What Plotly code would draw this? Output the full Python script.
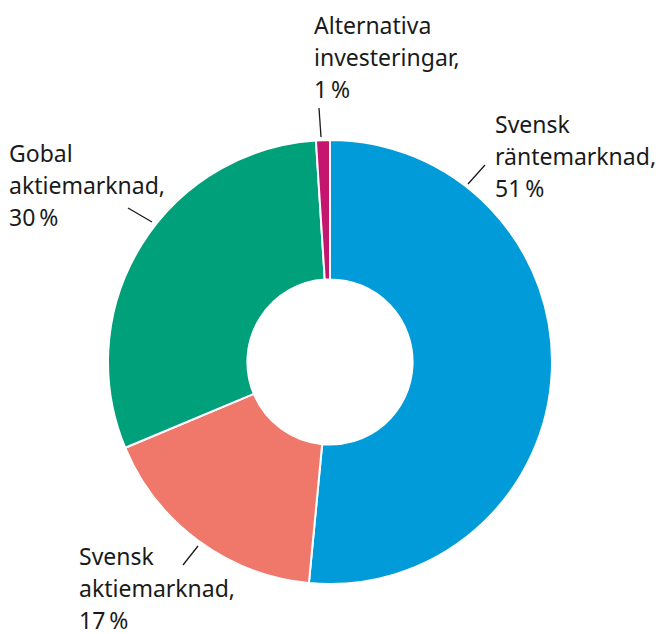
import plotly.graph_objects as go

# -----------------------------
# Daten
# -----------------------------
kategorien = ["Svensk räntemarknad", "Svensk aktiemarknad",
              "Gobal aktiemarknad", "Alternativa investeringar"]
andel = [51, 17, 30, 1]
farben = ["#009BD8", "#EF786A", "#00A17A", "#C4166F"]

# Beschriftungen (Zeilen) je Segment
label_zeilen = [
    ["Svensk", "räntemarknad,", "51\u202f%"],
    ["Svensk", "aktiemarknad,", "17\u202f%"],
    ["Gobal", "aktiemarknad,", "30\u202f%"],
    ["Alternativa", "investeringar,", "1\u202f%"],
]

# Seite hat 8px Rand -> Figur etwas kleiner, Koordinaten verschoben
OFF = 8
W, H = 665 - OFF, 634 - OFF


def px2paper(x, y):
    return (x - OFF) / W, 1 - (y - OFF) / H


# Position der Beschriftung (linke Kante, Grundlinie erste Zeile) und Führungslinie
label_pos = [(496, 133), (80, 565), (10, 162), (315, 34)]
leader = [((468, 184), (485, 165)),
          ((183, 565), (198, 546)),
          ((128, 208), (152, 222)),
          ((319, 108), (321, 137))]
zeilenabstand = 31.8

cx, cy, r = 330, 362, 222
x0, y1 = px2paper(cx - r, cy - r)
x1, y0 = px2paper(cx + r, cy + r)

fig = go.Figure(go.Pie(
    labels=kategorien,
    values=andel,
    sort=False,
    direction="clockwise",
    rotation=0,
    hole=0.372,
    marker=dict(colors=farben, line=dict(color="white", width=2)),
    textinfo="none",
    hoverinfo="skip",
    domain=dict(x=[x0, x1], y=[y0, y1]),
))

annotations = []
shapes = []
for zeilen, (lx, ly), ((ax, ay), (bx, by)) in zip(label_zeilen, label_pos, leader):
    for i, z in enumerate(zeilen):
        px_, py_ = px2paper(lx - 3, ly + i * zeilenabstand - 9)
        annotations.append(dict(
            x=px_, y=py_, xref="paper", yref="paper",
            xanchor="left", yanchor="middle",
            text=z, showarrow=False,
            font=dict(family="Noto Sans, sans-serif", size=23, color="#1a1a1a"),
        ))
    pa = px2paper(ax, ay)
    pb = px2paper(bx, by)
    shapes.append(dict(type="line", xref="paper", yref="paper",
                       x0=pa[0], y0=pa[1], x1=pb[0], y1=pb[1],
                       line=dict(color="#1a1a1a", width=1.3)))

fig.update_layout(
    width=W, height=H,
    margin=dict(l=0, r=0, t=0, b=0),
    paper_bgcolor="white",
    plot_bgcolor="white",
    showlegend=False,
    annotations=annotations,
    shapes=shapes,
)

fig.write_html("out.html")
